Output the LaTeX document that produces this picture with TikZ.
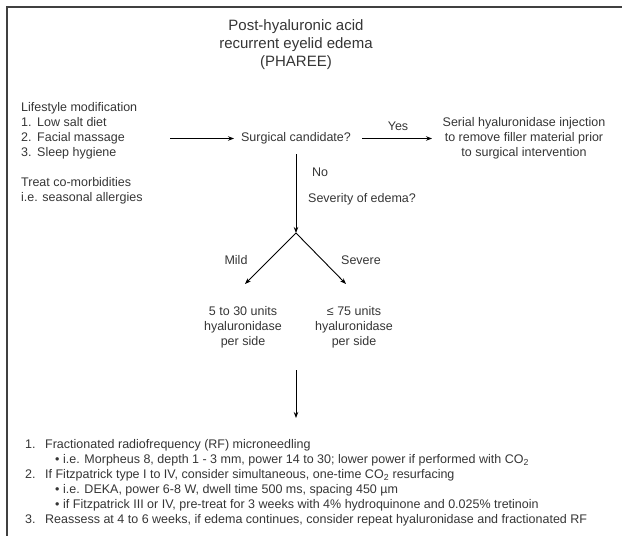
\documentclass[tikz,border=0pt]{standalone}
\usepackage{fontspec}
\setmainfont{Liberation Sans}
\usetikzlibrary{arrows.meta}
\definecolor{txt}{HTML}{353535}
\begin{document}
\begin{tikzpicture}[x=1pt,y=-1pt,
  every node/.style={text=txt,inner sep=0pt},
  body/.style={font=\fontsize{12.5}{15}\selectfont},
  ttl/.style={font=\fontsize{15}{18}\selectfont,align=center},
  arr/.style={draw=black,line width=0.9pt,-{Stealth[length=6pt,width=4.5pt]}},
  frame/.style={draw=black!75,line width=2pt}]
\useasboundingbox (0,0) rectangle (622,536);
\draw[frame] (7,536) -- (7,7) -- (622,7);
% title
\node[ttl] (title) at (296,45) {Post-hyaluronic acid\\recurrent eyelid edema\\(PHAREE)};
% left blocks
\node[body,align=left,anchor=west] (life) at (21,131) {Lifestyle modification\\
\makebox[16pt][l]{1.}Low salt diet\\
\makebox[16pt][l]{2.}Facial massage\\
\makebox[16pt][l]{3.}Sleep hygiene};
\node[body,align=left,anchor=west] (treat) at (21,191) {Treat co-morbidities\\i.e. seasonal allergies};
% center row
\node[body] (surg) at (296,138.5) {Surgical candidate?};
\coordinate (a1s) at (170,138.5);
\coordinate (a1e) at (234,138.5);
\coordinate (a2s) at (362,138.5);
\coordinate (a2e) at (432,138.5);
\draw[arr] (a1s) -- (a1e);
\draw[arr] (a2s) -- (a2e);
\node[body] (yes) at (398,126) {Yes};
\node[body,align=center] (serial) at (524,138.5) {Serial hyaluronidase injection\\to remove filler material prior\\to surgical intervention};
% vertical
\coordinate (v1s) at (296,154);
\coordinate (apex) at (296,233);
\draw[arr] (v1s) -- (apex);
\node[body,anchor=west] (no) at (312,172) {No};
\node[body,anchor=west] (sev) at (308,199) {Severity of edema?};
% branches
\coordinate (tipL) at (245,284);
\coordinate (tipR) at (346,284);
\draw[arr] (apex) -- (tipL);
\draw[arr] (apex) -- (tipR);
\node[body] (mild) at (236,260) {Mild};
\node[body] (severe) at (361,260) {Severe};
\node[body,align=center] (valL) at (243,327) {5 to 30 units\\hyaluronidase\\per side};
\node[body,align=center] (valR) at (354,327) {≤ 75 units\\hyaluronidase\\per side};
% bottom arrow
\coordinate (v2s) at (296,370);
\coordinate (v2e) at (296,418);
\draw[arr] (v2s) -- (v2e);
% list
\node[body,align=left,anchor=west] (list) at (25,483) {%
\makebox[20pt][l]{1.}Fractionated radiofrequency (RF) microneedling\\
\hspace{30pt}\makebox[8pt][l]{•}i.e. Morpheus 8, depth 1 - 3 mm, power 14 to 30; lower power if performed with CO\textsubscript{2}\\
\makebox[20pt][l]{2.}If Fitzpatrick type I to IV, consider simultaneous, one-time CO\textsubscript{2} resurfacing\\
\hspace{30pt}\makebox[8pt][l]{•}i.e. DEKA, power 6-8 W, dwell time 500 ms, spacing 450 µm\\
\hspace{30pt}\makebox[8pt][l]{•}if Fitzpatrick III or IV, pre-treat for 3 weeks with 4\% hydroquinone and 0.025\% tretinoin\\
\makebox[20pt][l]{3.}Reassess at 4 to 6 weeks, if edema continues, consider repeat hyaluronidase and fractionated RF};
\end{tikzpicture}
\end{document}
